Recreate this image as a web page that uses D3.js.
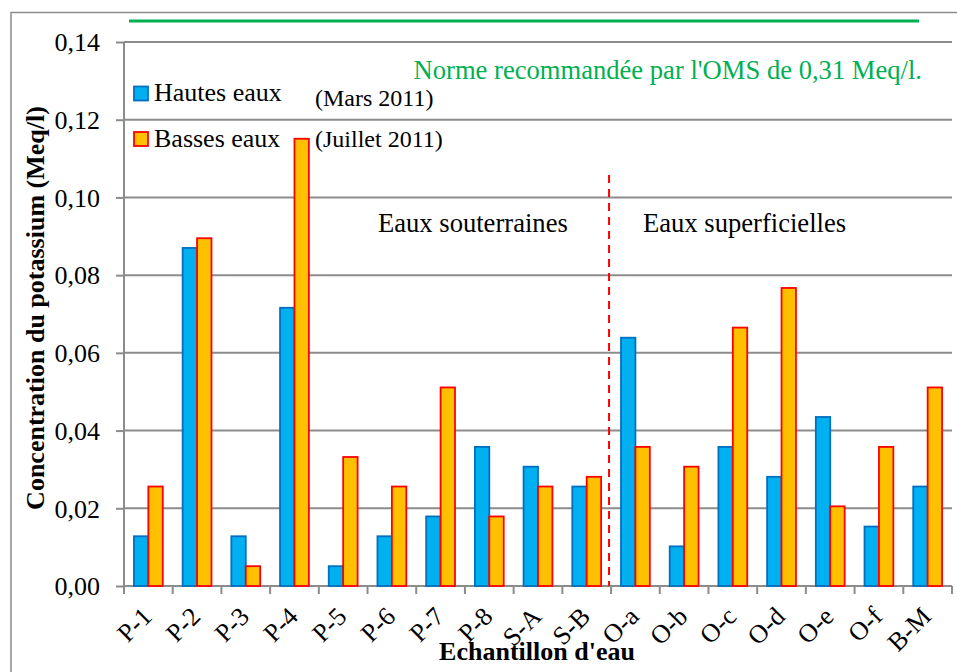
<!DOCTYPE html>
<html>
<head>
<meta charset="utf-8">
<script src="https://cdn.jsdelivr.net/npm/d3@7"></script>
<style>
  html, body { margin: 0; padding: 0; background: #fff; }
  svg { display: block; }
  text { font-family: "Liberation Serif", "Times New Roman", serif; fill: #000; }
</style>
</head>
<body>
<svg id="chart" width="957" height="672"></svg>
<script>
// Potassium concentration (Meq/l) per sampling point
const categories = ["P-1","P-2","P-3","P-4","P-5","P-6","P-7","P-8","S-A","S-B",
                    "O-a","O-b","O-c","O-d","O-e","O-f","B-M"];
const hautesEaux = [0.0128,0.0870,0.0128,0.0716,0.0051,0.0128,0.0179,0.0358,0.0307,0.0256,
                    0.0639,0.0102,0.0358,0.0281,0.0435,0.0153,0.0256];
const bassesEaux = [0.0256,0.0895,0.0051,0.1151,0.0332,0.0256,0.0511,0.0179,0.0256,0.0281,
                    0.0358,0.0307,0.0665,0.0767,0.0205,0.0358,0.0511];
const yTicks = [0,0.02,0.04,0.06,0.08,0.10,0.12,0.14];
const seriesNames = ["Hautes eaux","Basses eaux"];
const seriesPeriods = ["(Mars 2011)","(Juillet 2011)"];
const firstSurfaceSample = "O-a";

const fmt = v => d3.format(".2f")(v).replace(".", ",");

const svg = d3.select("#chart");
const plotLeft = 124, plotRight = 952, plotTop = 42, plotBottom = 586;

const x = d3.scaleBand().domain(categories).range([plotLeft, plotRight]).padding(0);
const bw = x.bandwidth();
const xs = d3.scaleBand().domain([0, 1]).range([bw * 0.204, bw * 0.796]).padding(0);
const y = d3.scaleLinear().domain([0, 0.14]).range([plotBottom, plotTop]);

const grey = "#8c8c8c";

// outer chart border
svg.append("rect").attr("x", 11).attr("y", 12.5).attr("width", 980).attr("height", 700)
  .attr("fill", "none").attr("stroke", grey).attr("stroke-width", 1.5);

// horizontal gridlines
svg.append("g").selectAll("line").data(yTicks.slice(1)).join("line")
  .attr("x1", plotLeft).attr("x2", plotRight)
  .attr("y1", d => y(d)).attr("y2", d => y(d))
  .attr("stroke", grey).attr("stroke-width", 2);

// y axis
const yAxis = svg.append("g").attr("transform", `translate(${plotLeft},0)`)
  .call(d3.axisLeft(y).tickValues(yTicks).tickFormat(fmt).tickSize(8).tickPadding(16));
yAxis.attr("font-family", null);
yAxis.select(".domain").attr("stroke", grey).attr("stroke-width", 2)
  .attr("d", `M0,${plotTop}V${plotBottom + 7}`);
yAxis.selectAll(".tick line").attr("stroke", grey).attr("stroke-width", 2);
yAxis.selectAll(".tick text").attr("font-size", 26).attr("fill", "#000")
  .attr("dy", "0.34em");

// x axis line and ticks at category boundaries
svg.append("line").attr("x1", plotLeft).attr("x2", plotRight).attr("y1", plotBottom).attr("y2", plotBottom)
  .attr("stroke", grey).attr("stroke-width", 2);
const bounds = categories.map(c => x(c)).concat([plotRight]);
svg.append("g").selectAll("line").data(bounds).join("line")
  .attr("x1", d => d).attr("x2", d => d).attr("y1", plotBottom).attr("y2", plotBottom + 8)
  .attr("stroke", grey).attr("stroke-width", 2);

// x tick labels, rotated
svg.append("g").selectAll("text").data(categories).join("text")
  .attr("text-anchor", "end").attr("font-size", 26)
  .attr("transform", d => `translate(${x(d) + bw / 2 + 5},618) rotate(-45)`)
  .text(d => d);

// bars
const fills = ["#00B0F0", "#FFC000"];
const strokes = ["#0070C0", "#FF0000"];
[hautesEaux, bassesEaux].forEach((vals, s) => {
  svg.append("g").selectAll("rect").data(vals).join("rect")
    .attr("x", (d, i) => x(categories[i]) + xs(s))
    .attr("width", xs.bandwidth())
    .attr("y", d => y(d))
    .attr("height", d => y(0) - y(d))
    .attr("fill", fills[s]).attr("stroke", strokes[s]).attr("stroke-width", 1.8);
});

// separator between groundwater and surface water samples
const sepX = x(firstSurfaceSample) - 2;
svg.append("line").attr("x1", sepX).attr("x2", sepX).attr("y1", 175).attr("y2", plotBottom)
  .attr("stroke", "#FF0000").attr("stroke-width", 2).attr("stroke-dasharray", "8,6");

svg.append("text").attr("x", 378).attr("y", 232).attr("font-size", 26.6).text("Eaux souterraines");
svg.append("text").attr("x", 643).attr("y", 232).attr("font-size", 26.6).text("Eaux superficielles");

// WHO guideline (0,31 Meq/l, above the plotted range)
svg.append("line").attr("x1", 129).attr("x2", 919).attr("y1", 21).attr("y2", 21)
  .attr("stroke", "#00B050").attr("stroke-width", 3);
svg.append("text").attr("x", 922).attr("y", 79).attr("text-anchor", "end")
  .attr("font-size", 26.6).style("fill", "#00B050")
  .text("Norme recommandée par l'OMS de 0,31 Meq/l.");

// legend
const legY = [101, 146.5];
seriesNames.forEach((name, s) => {
  svg.append("rect").attr("x", 134).attr("y", legY[s] - 14.5).attr("width", 14).attr("height", 14)
    .attr("fill", fills[s]).attr("stroke", strokes[s]).attr("stroke-width", 1.8);
  svg.append("text").attr("x", 154).attr("y", legY[s]).attr("font-size", 26).text(name);
  svg.append("text").attr("x", 315).attr("y", legY[s] + (s === 0 ? 5 : 0))
    .attr("font-size", 24).text(seriesPeriods[s]);
});

// axis titles
svg.append("text").attr("x", 537).attr("y", 660).attr("text-anchor", "middle")
  .attr("font-size", 26).attr("font-weight", "bold").text("Echantillon d'eau");
svg.append("text").attr("transform", "translate(44,308) rotate(-90)")
  .attr("text-anchor", "middle").attr("font-size", 26).attr("font-weight", "bold")
  .text("Concentration du potassium (Meq/l)");
</script>
</body>
</html>
